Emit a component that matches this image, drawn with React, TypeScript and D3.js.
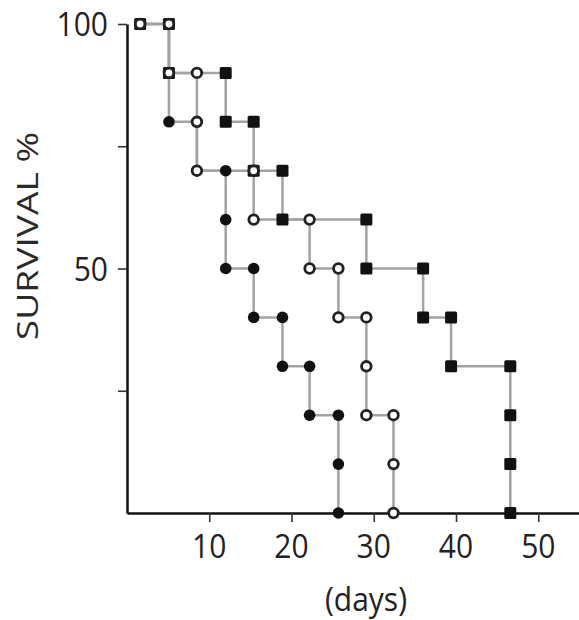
import React, { useEffect, useRef } from 'react'
import * as d3 from 'd3'

const WIDTH = 579, HEIGHT = 620

// filled squares
const squareDays = [1.6, 5.1, 5.1, 12, 12, 15.4, 15.4, 18.9, 18.9, 29.1, 29.1, 36, 36, 39.4, 39.4, 46.6, 46.6, 46.6, 46.6]
const squareSurvival = [100, 100, 90, 90, 80, 80, 70, 70, 60, 60, 50, 50, 40, 40, 30, 30, 20, 10, 0]

// filled circles
const dotDays = [1.6, 5.1, 5.1, 5.1, 8.5, 8.5, 12, 12, 12, 15.4, 15.4, 18.9, 18.9, 22.2, 22.2, 25.7, 25.7, 25.7]
const dotSurvival = [100, 100, 90, 80, 80, 70, 70, 60, 50, 50, 40, 40, 30, 30, 20, 20, 10, 0]

// open circles
const ringDays = [1.6, 5.1, 5.1, 8.5, 8.5, 8.5, 15.4, 15.4, 22.2, 22.2, 25.7, 25.7, 29.1, 29.1, 29.1, 32.4, 32.4, 32.4]
const ringSurvival = [100, 100, 90, 90, 80, 70, 70, 60, 60, 50, 50, 40, 40, 30, 20, 20, 10, 0]

const xTicks = [10, 20, 30, 40, 50]
const yTicks = [25, 50, 75, 100]
const yLabels = [50, 100]

const FONT = '"Open Sans", "Noto Sans", sans-serif'

export default function App() {
  const ref = useRef<SVGSVGElement>(null)

  useEffect(() => {
    const svg = d3.select(ref.current)
    svg.selectAll('*').remove()

    const x = d3.scaleLinear().domain([0, 55]).range([127, 579.4])
    const y = d3.scaleLinear().domain([0, 100]).range([513, 24])

    // axes
    const xAxis = d3.axisBottom(x).tickValues(xTicks).tickSize(9).tickSizeOuter(0).tickFormat(() => '')
    const gx = svg.append('g').attr('transform', `translate(0,${y(0)})`).call(xAxis)
    const yAxis = d3.axisLeft(y).tickValues(yTicks).tickSize(9).tickSizeOuter(0).tickFormat(() => '')
    const gy = svg.append('g').attr('transform', `translate(${x(0)},0)`).call(yAxis)
    ;[gx, gy].forEach(g => {
      g.select('.domain').attr('stroke', '#111').attr('stroke-width', 2.5)
      g.selectAll('.tick line').attr('stroke', '#333').attr('stroke-width', 1.6)
    })

    // tick labels
    svg.append('g')
      .selectAll('text')
      .data(xTicks)
      .enter()
      .append('text')
      .attr('transform', d => `translate(${x(d)},558) scale(1,1.12)`)
      .attr('text-anchor', 'middle')
      .attr('font-family', FONT)
      .attr('font-size', 30)
      .attr('fill', '#222')
      .text(d => d)

    svg.append('g')
      .selectAll('text')
      .data(yLabels)
      .enter()
      .append('text')
      .attr('transform', d => `translate(108,${y(d) + 12}) scale(1,1.12)`)
      .attr('text-anchor', 'end')
      .attr('font-family', FONT)
      .attr('font-size', 30)
      .attr('fill', '#222')
      .text(d => d)

    svg.append('text')
      .attr('transform', 'translate(366,611) scale(1,1.12)')
      .attr('text-anchor', 'middle')
      .attr('font-family', FONT)
      .attr('font-size', 30)
      .attr('fill', '#222')
      .text('(days)')

    svg.append('text')
      .attr('transform', 'translate(38,236) scale(1,1.26) rotate(-90)')
      .attr('text-anchor', 'middle')
      .attr('font-family', FONT)
      .attr('font-size', 29.5)
      .attr('fill', '#2a2a2a')
      .text('SURVIVAL %')

    const series = [
      { days: squareDays, surv: squareSurvival, mark: 'square' },
      { days: dotDays, surv: dotSurvival, mark: 'dot' },
      { days: ringDays, surv: ringSurvival, mark: 'ring' }
    ]

    const line = d3.line<number>()
      .x(d => x(d[0]))
      .y(d => y(d[1]))

    // step lines first
    series.forEach(s => {
      const pts = s.days.map((d, i) => [d, s.surv[i]])
      svg.append('path')
        .attr('d', line(pts as any))
        .attr('fill', 'none')
        .attr('stroke', '#a3a3a3')
        .attr('stroke-width', 2.5)
    })

    // markers on top, open circles last
    series.forEach(s => {
      const pts = s.days.map((d, i) => [d, s.surv[i]])
      const g = svg.append('g')
      if (s.mark === 'square') {
        g.selectAll('rect').data(pts).enter().append('rect')
          .attr('x', d => x(d[0]) - 6)
          .attr('y', d => y(d[1]) - 6)
          .attr('width', 12)
          .attr('height', 12)
          .attr('rx', 1.5)
          .attr('fill', '#111')
      } else if (s.mark === 'dot') {
        g.selectAll('circle').data(pts).enter().append('circle')
          .attr('cx', d => x(d[0]))
          .attr('cy', d => y(d[1]))
          .attr('r', 5.8)
          .attr('fill', '#111')
      } else {
        g.selectAll('circle').data(pts).enter().append('circle')
          .attr('cx', d => x(d[0]))
          .attr('cy', d => y(d[1]))
          .attr('r', 4.8)
          .attr('fill', '#fff')
          .attr('stroke', '#222')
          .attr('stroke-width', 2.8)
      }
    })
  }, [])

  return (
    <svg ref={ref} width={WIDTH} height={HEIGHT}
      style={{ position: 'absolute', left: 0, top: 0, background: '#fff' }} />
  )
}
